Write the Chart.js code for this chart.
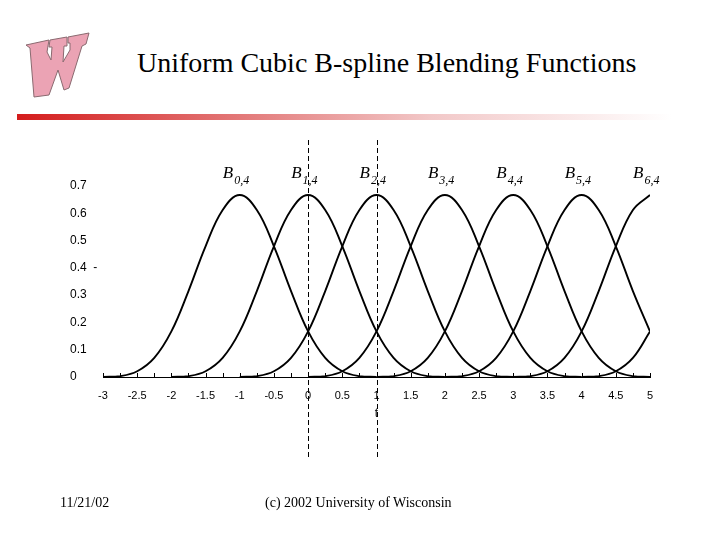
<!DOCTYPE html>
<html>
<head>
<meta charset="utf-8">
<script src="https://cdn.jsdelivr.net/npm/chart.js@4/dist/chart.umd.min.js"></script>
<style>
  body { margin: 0; background: #fff; }
  #wrap { position: relative; width: 720px; height: 540px; overflow: hidden; }
  #c { position: absolute; left: 0; top: 0; }
  .txt { position: absolute; font-family: "Liberation Serif", "Times New Roman", serif; color: #000; white-space: nowrap; }
  #title { left: 137px; top: 47px; font-size: 28px; }
  #rule { position: absolute; left: 17px; top: 114px; width: 690px; height: 6px;
          background: linear-gradient(to right, #d41c1c 0%, #e48080 35%, #f2c8c8 60%, #ffffff 95%); }
  #date { left: 60px; top: 495px; font-size: 14px; }
  #copy { left: 265px; top: 495px; font-size: 14px; }
  #logo { position: absolute; left: 0; top: 0; }
</style>
</head>
<body>
<div id="wrap">
  <svg id="logo" width="100" height="110">
    <polygon points="26,45 49,40 47,52 51,60 52,47 49,47 50,40 67,37 67,46 64,46 63,62 70,50 70,43 68,43 68,37 89,33 86,44 82,46 69,88 64,90 58,70 49,95 34,97 30,48"
             fill="#eba3b4" stroke="#8a6a70" stroke-width="1"/>
  </svg>
  <div class="txt" id="title">Uniform Cubic B-spline Blending Functions</div>
  <div id="rule"></div>
  <canvas id="c" width="720" height="540"></canvas>
  <div class="txt" id="date">11/21/02</div>
  <div class="txt" id="copy">(c) 2002 University of Wisconsin</div>
</div>
<script>
// parameter values along t, every 0.25 from -3 to 5
const tValues = [-3, -2.75, -2.5, -2.25, -2, -1.75, -1.5, -1.25, -1, -0.75, -0.5, -0.25,
  0, 0.25, 0.5, 0.75, 1, 1.25, 1.5, 1.75, 2, 2.25, 2.5, 2.75, 3, 3.25, 3.5, 3.75, 4, 4.25, 4.5, 4.75, 5];

const N = null;
// blending function values (null = outside the support)
const b0 = [0, .003, .021, .07, .167, .315, .479, .612, .667, .612, .479, .315, .167, .07, .021, .003, 0,
  N, N, N, N, N, N, N, N, N, N, N, N, N, N, N, N];
const b1 = [N, N, N, N, 0, .003, .021, .07, .167, .315, .479, .612, .667, .612, .479, .315, .167, .07, .021, .003, 0,
  N, N, N, N, N, N, N, N, N, N, N, N];
const b2 = [N, N, N, N, N, N, N, N, 0, .003, .021, .07, .167, .315, .479, .612, .667, .612, .479, .315, .167, .07, .021, .003, 0,
  N, N, N, N, N, N, N, N];
const b3 = [N, N, N, N, N, N, N, N, N, N, N, N, 0, .003, .021, .07, .167, .315, .479, .612, .667, .612, .479, .315, .167, .07, .021, .003, 0,
  N, N, N, N];
const b4 = [N, N, N, N, N, N, N, N, N, N, N, N, N, N, N, N, 0, .003, .021, .07, .167, .315, .479, .612, .667, .612, .479, .315, .167, .07, .021, .003, 0];
const b5 = [N, N, N, N, N, N, N, N, N, N, N, N, N, N, N, N, N, N, N, N, 0, .003, .021, .07, .167, .315, .479, .612, .667, .612, .479, .315, .167];
const b6 = [N, N, N, N, N, N, N, N, N, N, N, N, N, N, N, N, N, N, N, N, N, N, N, N, 0, .003, .021, .07, .167, .315, .479, .612, .667];
const b7 = [N, N, N, N, N, N, N, N, N, N, N, N, N, N, N, N, N, N, N, N, N, N, N, N, N, N, N, N, 0, .003, .021, .07, .167];

const curves = [b0, b1, b2, b3, b4, b5, b6, b7];

// labels B_{i,4} sit over the peaks
const labelSubs = ['0,4', '1,4', '2,4', '3,4', '4,4', '5,4', '6,4'];
const labelT = [-1, 0, 1, 2, 3, 4, 5];
const dashedT = [0, 1];

const xTicks = [-3, -2.5, -2, -1.5, -1, -0.5, 0, 0.5, 1, 1.5, 2, 2.5, 3, 3.5, 4, 4.5, 5];
const yTicks = [0, 0.1, 0.2, 0.3, 0.4, 0.5, 0.6, 0.7];

const decor = {
  id: 'decor',
  afterDraw(chart) {
    const ctx = chart.ctx;
    const xs = chart.scales.x, ys = chart.scales.y;
    const base = ys.getPixelForValue(0);
    ctx.save();
    ctx.strokeStyle = '#000';
    ctx.lineWidth = 1;
    // little upward ticks on the axis
    for (let t = -3; t <= 5.001; t += 0.25) {
      const px = Math.round(xs.getPixelForValue(t)) + 0.5;
      ctx.beginPath();
      ctx.moveTo(px, base);
      ctx.lineTo(px, base - 4);
      ctx.stroke();
    }
    // dashed guides
    ctx.setLineDash([5, 3]);
    dashedT.forEach(t => {
      const px = Math.round(xs.getPixelForValue(t)) + 0.5;
      ctx.beginPath();
      ctx.moveTo(px, 140);
      ctx.lineTo(px, 460);
      ctx.stroke();
    });
    ctx.setLineDash([]);
    // B labels
    ctx.fillStyle = '#000';
    ctx.textBaseline = 'alphabetic';
    labelT.forEach((t, i) => {
      const px = xs.getPixelForValue(t) - 17;
      ctx.font = 'italic 17px "Liberation Serif", serif';
      ctx.fillText('B', px, 178);
      const w = ctx.measureText('B').width;
      ctx.font = 'italic 12px "Liberation Serif", serif';
      ctx.fillText(labelSubs[i], px + w + 1, 184);
    });
    ctx.restore();
  }
};

new Chart(document.getElementById('c'), {
  type: 'line',
  data: {
    datasets: curves.map(vals => ({
      data: tValues.map((t, i) => ({ x: t, y: vals[i] })).filter(p => p.y !== null),
      borderColor: '#000',
      borderWidth: 1.9,
      pointRadius: 0,
      fill: false,
      tension: 0.4
    }))
  },
  options: {
    responsive: false,
    animation: false,
    layout: { padding: { left: 70, right: 70, top: 186, bottom: 115 } },
    plugins: { legend: { display: false }, tooltip: { enabled: false } },
    scales: {
      x: {
        type: 'linear',
        min: -3, max: 5,
        afterBuildTicks: s => { s.ticks = xTicks.map(v => ({ value: v })); },
        afterFit: s => { s.height = 48; },
        grid: { display: false, drawTicks: false },
        border: { display: true, color: '#000', width: 1 },
        ticks: { padding: 12, color: '#000', maxRotation: 0, autoSkip: false,
                 font: { family: '"Liberation Sans", Arial, sans-serif', size: 11 },
                 callback: v => String(v) },
        title: { display: true, text: 't', color: '#000', padding: { top: 2, bottom: 4 },
                 font: { family: '"Liberation Sans", Arial, sans-serif', size: 12 } }
      },
      y: {
        min: 0, max: 0.7,
        afterBuildTicks: s => { s.ticks = yTicks.map(v => ({ value: v })); },
        afterFit: s => { s.width = 33; },
        grid: { display: false, drawTicks: false },
        border: { display: false },
        ticks: {
          crossAlign: 'far', color: '#000', autoSkip: false,
          font: { family: '"Liberation Sans", Arial, sans-serif', size: 12 },
          callback: v => (v === 0.4 ? '0.4  -' : String(Math.round(v * 10) / 10))
        }
      }
    }
  },
  plugins: [decor]
});
</script>
</body>
</html>
